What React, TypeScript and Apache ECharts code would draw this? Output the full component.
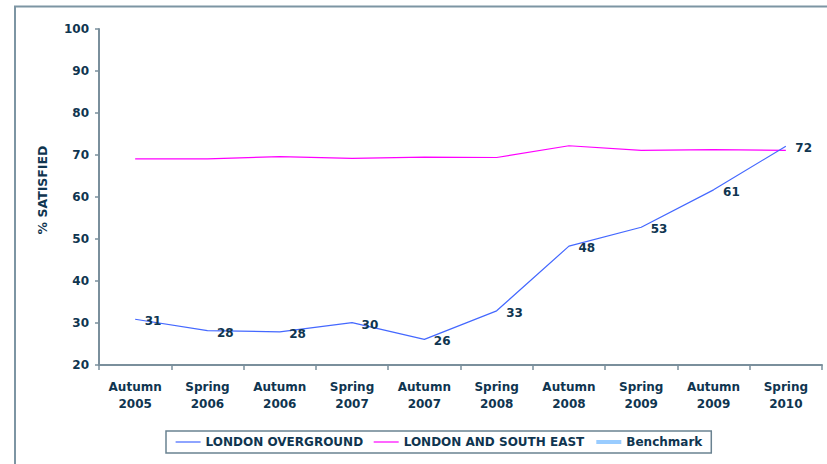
import React, { useEffect, useRef } from "react";
import * as echarts from "echarts";

const categories = [
  "Autumn\n2005", "Spring\n2006", "Autumn\n2006", "Spring\n2007", "Autumn\n2007",
  "Spring\n2008", "Autumn\n2008", "Spring\n2009", "Autumn\n2009", "Spring\n2010",
];
const londonOverground = [31, 28, 28, 30, 26, 33, 48, 53, 61, 72];
const londonOvergroundLine = [30.9, 28.2, 27.9, 30.1, 26.1, 32.9, 48.3, 52.8, 61.7, 72.1];
const londonSouthEast = [69.1, 69.1, 69.6, 69.2, 69.5, 69.4, 72.2, 71.1, 71.3, 71.1];
const benchmark: (number | null)[] = [];

const textColor = "#0f3550";
const axisColor = "#7a8f9c";
const font = "DejaVu Sans";

export default function App() {
  const ref = useRef<HTMLDivElement>(null);
  useEffect(() => {
    if (!ref.current) return;
    const chart = echarts.init(ref.current, undefined, { renderer: "svg" });
    chart.setOption({
      animation: false,
      backgroundColor: "#ffffff",
      textStyle: { fontFamily: font },
      graphic: [
        {
          type: "rect",
          shape: { x: 15, y: 6.5, width: 900, height: 600 },
          style: { fill: "none", stroke: "#7d95a3", lineWidth: 2 },
          silent: true,
        },
      ],
      grid: { left: 99, top: 29, right: 5, bottom: 99, containLabel: false },
      legend: {
        left: 166,
        top: 431,
        padding: [5, 9],
        itemGap: 10,
        itemWidth: 25,
        itemHeight: 14,
        borderColor: "#6a8291",
        borderWidth: 1.5,
        itemStyle: { opacity: 0 },
        textStyle: { color: textColor, fontFamily: font, fontWeight: "bold", fontSize: 12 },
        data: [
          { name: "LONDON OVERGROUND", lineStyle: { width: 1.2 } },
          { name: "LONDON AND SOUTH EAST", lineStyle: { width: 1.2 } },
          { name: "Benchmark", lineStyle: { width: 4, color: "#99ccff" } },
        ],
      },
      xAxis: {
        type: "category",
        data: categories,
        boundaryGap: true,
        axisLine: { lineStyle: { color: axisColor, width: 2 } },
        axisTick: { show: true, length: 5, lineStyle: { color: axisColor, width: 1.5 } },
        axisLabel: {
          color: textColor,
          fontFamily: font,
          fontWeight: "bold",
          fontSize: 12,
          lineHeight: 17,
          margin: 13,
          interval: 0,
        },
      },
      yAxis: {
        type: "value",
        min: 20,
        max: 100,
        interval: 10,
        name: "% SATISFIED",
        nameLocation: "middle",
        nameGap: 50,
        nameRotate: 90,
        nameTextStyle: {
          color: textColor,
          fontFamily: font,
          fontWeight: "bold",
          fontSize: 12.5,
          padding: [0, 0, 0, 14],
        },
        splitLine: { show: false },
        axisLine: { show: true, lineStyle: { color: axisColor, width: 2 } },
        axisTick: { show: true, length: 4, lineStyle: { color: axisColor, width: 1.5 } },
        axisLabel: { color: textColor, fontFamily: font, fontWeight: "bold", fontSize: 12, margin: 10 },
      },
      series: [
        {
          name: "LONDON OVERGROUND",
          type: "line",
          data: londonOvergroundLine,
          symbol: "none",
          lineStyle: { color: "#4468ff", width: 1.2 },
          itemStyle: { color: "#4468ff" },
          z: 3,
        },
        {
          name: "LONDON AND SOUTH EAST",
          type: "line",
          data: londonSouthEast,
          symbol: "none",
          lineStyle: { color: "#ff00ff", width: 1.2 },
          itemStyle: { color: "#ff00ff" },
          z: 2,
        },
        {
          name: "Benchmark",
          type: "line",
          data: benchmark,
          symbol: "none",
          lineStyle: { color: "#99ccff", width: 3 },
          itemStyle: { color: "#99ccff" },
        },
        {
          name: "LO labels",
          type: "scatter",
          data: londonOvergroundLine.map((v, i) => ({
            value: v,
            label: { formatter: String(londonOverground[i]) },
          })),
          symbolSize: 1,
          itemStyle: { color: "rgba(0,0,0,0)", opacity: 1 },
          label: {
            show: true,
            position: "right",
            distance: 9,
            offset: [0, 2],
            color: textColor,
            opacity: 1,
            fontFamily: font,
            fontWeight: "bold",
            fontSize: 12,
          },
          z: 4,
        },
      ],
    });
    return () => chart.dispose();
  }, []);
  return (
    <div
      ref={ref}
      style={{ position: "fixed", left: 0, top: 0, width: 827, height: 464 }}
    />
  );
}
